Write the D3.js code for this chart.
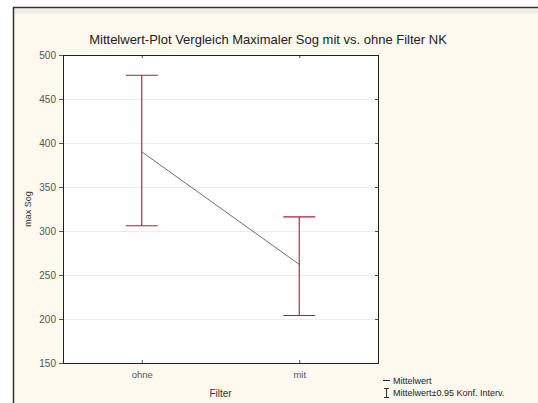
<!DOCTYPE html>
<meta charset="utf-8">
<head>
    <title>Mittelwert-Plot</title>
    <script src="https://cdn.jsdelivr.net/npm/d3@7"></script>
    <style>
        body { margin: 0; background: #ffffff; }
        svg text { font-family: "Liberation Sans", Arial, sans-serif; }
    </style>
</head>
<body>
<div id="chart"></div>
<script>
    // data
    var categories = ["ohne", "mit"];
    var means = [390, 262];
    var upper = [477, 316];
    var lower = [306, 204];
    var yTicks = [150, 200, 250, 300, 350, 400, 450, 500];

    var width = 538, height = 403;
    var plot = { left: 63, top: 55, right: 378, bottom: 363 };

    var svg = d3.select("#chart").append("svg")
        .attr("width", width)
        .attr("height", height);

    // outer frame and cream background
    svg.append("rect")
        .attr("x", 13).attr("y", 7)
        .attr("width", width - 13).attr("height", height - 7)
        .attr("fill", "#fdf9ee");
    svg.append("rect")
        .attr("x", 14).attr("y", 9)
        .attr("width", width - 14).attr("height", 5)
        .attr("fill", "#efeeea");
    svg.append("line")
        .attr("x1", 13).attr("x2", width).attr("y1", 7.5).attr("y2", 7.5)
        .attr("stroke", "#333").attr("stroke-width", 1.5);
    svg.append("line")
        .attr("x1", 13.5).attr("x2", 13.5).attr("y1", 7).attr("y2", height)
        .attr("stroke", "#333").attr("stroke-width", 1.5);

    // scales
    var x = d3.scalePoint()
        .domain(categories)
        .range([plot.left, plot.right])
        .padding(0.5);

    var y = d3.scaleLinear()
        .domain([150, 500])
        .range([plot.bottom, plot.top]);

    // plot area
    svg.append("rect")
        .attr("x", plot.left).attr("y", plot.top)
        .attr("width", plot.right - plot.left)
        .attr("height", plot.bottom - plot.top)
        .attr("fill", "#ffffff");

    // grid lines
    svg.append("g")
        .selectAll("line")
        .data(yTicks.filter(function (d) { return d > 150 && d < 500; }))
        .enter()
        .append("line")
        .attr("x1", plot.left).attr("x2", plot.right)
        .attr("y1", function (d) { return Math.round(y(d)) + 0.5; })
        .attr("y2", function (d) { return Math.round(y(d)) + 0.5; })
        .attr("stroke", "#ececec")
        .attr("stroke-width", 1);

    // axes
    var yAxis = d3.axisLeft(y).tickValues(yTicks).tickSize(4).tickPadding(3);
    var gy = svg.append("g")
        .attr("transform", "translate(" + plot.left + ",0)")
        .call(yAxis);
    gy.select(".domain").remove();
    gy.selectAll("line").attr("stroke", "#555");
    gy.selectAll("text")
        .attr("fill", "#555")
        .style("font-size", "10px");

    var yRight = d3.axisLeft(y).tickValues(yTicks).tickSize(3).tickFormat("");
    var gyr = svg.append("g")
        .attr("transform", "translate(" + plot.right + ",0)")
        .call(yRight);
    gyr.select(".domain").remove();
    gyr.selectAll("line").attr("stroke", "#555");

    var xAxis = d3.axisBottom(x).tickSize(3).tickPadding(5);
    var gx = svg.append("g")
        .attr("transform", "translate(0," + plot.bottom + ")")
        .call(xAxis);
    gx.select(".domain").remove();
    gx.selectAll("line").attr("stroke", "#555").attr("y1", -3).attr("y2", 0);
    gx.selectAll("text")
        .attr("fill", "#555")
        .style("font-size", "9.5px");

    var xTop = d3.axisTop(x).tickSize(3).tickFormat("");
    var gxt = svg.append("g")
        .attr("transform", "translate(0," + plot.top + ")")
        .call(xTop);
    gxt.select(".domain").remove();
    gxt.selectAll("line").attr("stroke", "#555").attr("y1", 3).attr("y2", 0);

    // plot frame
    svg.append("rect")
        .attr("x", plot.left + 0.5).attr("y", plot.top + 0.5)
        .attr("width", plot.right - plot.left)
        .attr("height", plot.bottom - plot.top)
        .attr("fill", "none")
        .attr("stroke", "#222")
        .attr("stroke-width", 1);

    // mean line
    var line = d3.line()
        .x(function (d, i) { return x(categories[i]); })
        .y(function (d) { return y(d); });

    svg.append("path")
        .datum(means)
        .attr("d", line)
        .attr("fill", "none")
        .attr("stroke", "#6e6e6e")
        .attr("stroke-width", 1);

    // error bars (95% confidence interval)
    var capHalf = 16;
    var bars = svg.append("g")
        .selectAll("g")
        .data(categories)
        .enter()
        .append("g")
        .attr("stroke", "#b2173a")
        .attr("stroke-width", 1.1);

    bars.append("line")
        .attr("x1", function (d) { return x(d); })
        .attr("x2", function (d) { return x(d); })
        .attr("y1", function (d, i) { return y(upper[i]); })
        .attr("y2", function (d, i) { return y(lower[i]); });
    bars.append("line")
        .attr("x1", function (d) { return x(d) - capHalf; })
        .attr("x2", function (d) { return x(d) + capHalf; })
        .attr("y1", function (d, i) { return y(upper[i]); })
        .attr("y2", function (d, i) { return y(upper[i]); });
    bars.append("line")
        .attr("x1", function (d) { return x(d) - capHalf; })
        .attr("x2", function (d) { return x(d) + capHalf; })
        .attr("y1", function (d, i) { return y(lower[i]); })
        .attr("y2", function (d, i) { return y(lower[i]); });

    // title and axis labels
    svg.append("text")
        .attr("x", 268).attr("y", 44)
        .attr("text-anchor", "middle")
        .style("font-size", "13px")
        .attr("fill", "#222")
        .text("Mittelwert-Plot Vergleich Maximaler Sog mit vs. ohne Filter NK");

    svg.append("text")
        .attr("transform", "translate(31," + ((plot.top + plot.bottom) / 2) + ") rotate(-90)")
        .attr("text-anchor", "middle")
        .style("font-size", "9px")
        .attr("fill", "#333")
        .text("max Sog");

    svg.append("text")
        .attr("x", (plot.left + plot.right) / 2).attr("y", 397)
        .attr("text-anchor", "middle")
        .style("font-size", "10px")
        .attr("fill", "#333")
        .text("Filter");

    // legend
    var legend = svg.append("g").attr("transform", "translate(383,0)");
    legend.append("line")
        .attr("x1", 0).attr("x2", 7).attr("y1", 380.5).attr("y2", 380.5)
        .attr("stroke", "#222").attr("stroke-width", 1);
    legend.append("text")
        .attr("x", 10).attr("y", 384)
        .style("font-size", "9px")
        .attr("fill", "#222")
        .text("Mittelwert");
    legend.append("path")
        .attr("d", "M1,388.5H6M3.5,388.5V397.5M1,397.5H6")
        .attr("stroke", "#333").attr("stroke-width", 1).attr("fill", "none");
    legend.append("text")
        .attr("x", 10).attr("y", 396)
        .style("font-size", "9px")
        .attr("fill", "#222")
        .text("Mittelwert±0.95 Konf. Interv.");
</script>
</body>
</html>
